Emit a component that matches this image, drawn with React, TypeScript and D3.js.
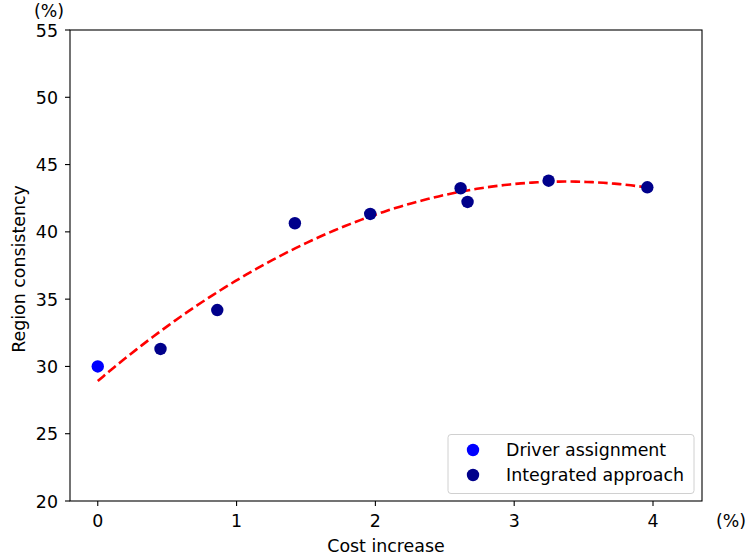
import React from "react";
import * as d3 from "d3";

const driverX = [0];
const driverY = [30.0];
const integratedX = [0.452, 0.861, 1.42, 1.963, 2.614, 2.664, 3.248, 3.959];
const integratedY = [31.3, 34.19, 40.64, 41.33, 43.24, 42.22, 43.8, 43.31];
const xTicks = [0, 1, 2, 3, 4];
const yTicks = [20, 25, 30, 35, 40, 45, 50, 55];
const legendLabels = ["Driver assignment", "Integrated approach"];
const colors = ["#0000ff", "#00008b"];

function polyfit2(xs: number[], ys: number[]): number[] {
  const S = [0, 0, 0, 0, 0];
  const T = [0, 0, 0];
  xs.forEach((x, i) => {
    for (let k = 0; k < 5; k++) S[k] += Math.pow(x, k);
    for (let k = 0; k < 3; k++) T[k] += ys[i] * Math.pow(x, k);
  });
  const M = [
    [S[0], S[1], S[2], T[0]],
    [S[1], S[2], S[3], T[1]],
    [S[2], S[3], S[4], T[2]],
  ];
  for (let i = 0; i < 3; i++) {
    for (let j = i + 1; j < 3; j++) {
      const f = M[j][i] / M[i][i];
      for (let k = i; k < 4; k++) M[j][k] -= f * M[i][k];
    }
  }
  const r = [0, 0, 0];
  for (let i = 2; i >= 0; i--) {
    let s = M[i][3];
    for (let k = i + 1; k < 3; k++) s -= M[i][k] * r[k];
    r[i] = s / M[i][i];
  }
  return r;
}

export default function App() {
  const W = 746, H = 560;
  const left = 70, right = 702, top = 30, bottom = 501;
  const x = d3.scaleLinear().domain([-0.2, 4.353]).range([left, right]);
  const y = d3.scaleLinear().domain([20, 55]).range([bottom, top]);
  const allX = [...driverX, ...integratedX];
  const allY = [...driverY, ...integratedY];
  const [a, b, c] = polyfit2(allX, allY);
  const xmin = d3.min(allX) as number, xmax = d3.max(allX) as number;
  const fitPts = d3.range(0, 101).map((i) => {
    const xv = xmin + ((xmax - xmin) * i) / 100;
    return [xv, a + b * xv + c * xv * xv] as [number, number];
  });
  const line = d3.line<[number, number]>().x((d) => x(d[0])).y((d) => y(d[1]));
  const font = "DejaVu Sans, sans-serif";
  const fs = 17.4;
  return (
    <svg width={W} height={H} style={{ position: "absolute", left: 0, top: 0 }} fontFamily={font}>
      <rect width={W} height={H} fill="white" />
      <path d={line(fitPts) || ""} fill="none" stroke="#ff0000" strokeWidth={2.6} strokeDasharray="9.6 4.2" />
      {driverX.map((xv, i) => (
        <circle key={"d" + i} cx={x(xv)} cy={y(driverY[i])} r={6.2} fill={colors[0]} />
      ))}
      {integratedX.map((xv, i) => (
        <circle key={"i" + i} cx={x(xv)} cy={y(integratedY[i])} r={6.2} fill={colors[1]} />
      ))}
      <rect x={left} y={top} width={right - left} height={bottom - top} fill="none" stroke="black" strokeWidth={1.1} />
      {xTicks.map((t) => (
        <g key={"x" + t}>
          <line x1={x(t)} x2={x(t)} y1={bottom} y2={bottom + 5} stroke="black" strokeWidth={1.1} />
          <text x={x(t)} y={527} fontSize={fs} textAnchor="middle">{t}</text>
        </g>
      ))}
      {yTicks.map((t) => (
        <g key={"y" + t}>
          <line x1={left - 5} x2={left} y1={y(t)} y2={y(t)} stroke="black" strokeWidth={1.1} />
          <text x={left - 12} y={y(t) + 6.5} fontSize={fs} textAnchor="end">{t}</text>
        </g>
      ))}
      <text x={49} y={17} fontSize={fs} textAnchor="middle">(%)</text>
      <text x={731} y={527} fontSize={fs} textAnchor="middle">(%)</text>
      <text x={386} y={552} fontSize={fs} textAnchor="middle">Cost increase</text>
      <text transform="translate(25,269) rotate(-90)" fontSize={fs} textAnchor="middle">Region consistency</text>
      <rect x={448} y={434.5} width={246} height={59} rx={3} fill="white" fillOpacity={0.8} stroke="#d0d0d0" />
      {legendLabels.map((l, i) => (
        <g key={l}>
          <circle cx={473} cy={450 + i * 25} r={6.2} fill={colors[i]} />
          <text x={506} y={456 + i * 25} fontSize={fs}>{l}</text>
        </g>
      ))}
    </svg>
  );
}
